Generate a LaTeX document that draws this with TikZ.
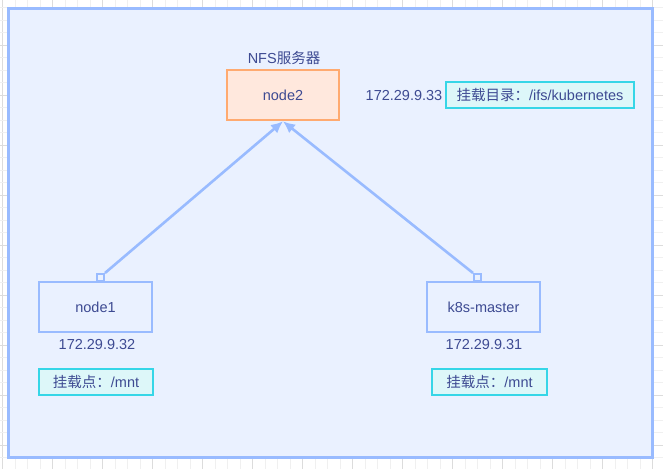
\documentclass[tikz,border=0pt]{standalone}
\usepackage{fontspec}
\setmainfont{Liberation Sans}
\newfontfamily\cjk{Noto Sans CJK SC}
\usetikzlibrary{arrows.meta}
\definecolor{gridminor}{HTML}{F0F0F0}
\definecolor{gridmajor}{HTML}{DCDCDC}
\definecolor{panelfill}{HTML}{EAF1FF}
\definecolor{panelline}{HTML}{99BBFF}
\definecolor{orline}{HTML}{FFAA70}
\definecolor{orfill}{HTML}{FFE8DD}
\definecolor{cyline}{HTML}{36D6E7}
\definecolor{cyfill}{HTML}{DDF7F9}
\definecolor{txt}{HTML}{3D4A92}
\tikzset{
  x=1pt, y=-1pt,
  every node/.style={font=\fontsize{14.5}{16}\selectfont, text=txt, inner sep=0pt},
  hostbox/.style={draw=panelline, fill=panelfill, line width=2.6pt, minimum width=113pt, minimum height=50pt},
  nfsbox/.style={draw=orline, fill=orfill, line width=2.6pt, minimum width=112pt, minimum height=50pt},
  mountbox/.style={draw=cyline, fill=cyfill, line width=2.6pt, minimum height=26pt},
  anchorsq/.style={draw=panelline, fill=panelfill, line width=2pt, minimum width=7pt, minimum height=7pt},
  link/.style={draw=panelline, line width=2.6pt, -{Latex[length=12pt,width=11pt]}},
}
\begin{document}
\begin{tikzpicture}
\useasboundingbox (0,0) rectangle (663,469);
% background grid
\foreach \k in {0,...,53} {
  \pgfmathsetmacro{\gx}{2.7+12.5*\k}
  \pgfmathtruncatemacro{\mj}{mod(\k,4)==0}
  \ifnum\mj=1 \draw[gridmajor, line width=1pt] (\gx,0) -- (\gx,469);
  \else \draw[gridminor, line width=1pt] (\gx,0) -- (\gx,469); \fi
}
\foreach \k in {1,...,38} {
  \pgfmathsetmacro{\gy}{-5+12.5*\k}
  \pgfmathtruncatemacro{\mj}{mod(\k,4)==0}
  \ifnum\mj=1 \draw[gridmajor, line width=1pt] (0,\gy) -- (663,\gy);
  \else \draw[gridminor, line width=1pt] (0,\gy) -- (663,\gy); \fi
}
% panel
\draw[draw=panelline, fill=panelfill, line width=3pt] (8,8) rectangle (652,457);

% NFS server
\node[nfsbox] (node2) at (283,95) {node2};
\node (nfslbl) at (284,58) {NFS{\cjk 服务器}};
\node (ip33) at (404,96) {172.29.9.33};
\node[mountbox, minimum width=188pt] (mnt33) at (540,95) {{\cjk 挂载目录：}/ifs/kubernetes};

% node1
\node[hostbox] (node1) at (95.5,307) {node1};
\node (ip32) at (97,345) {172.29.9.32};
\node[mountbox, minimum width=114pt] (mnt32) at (96,382) {{\cjk 挂载点：}/mnt};

% k8s-master
\node[hostbox] (master) at (483.5,307) {k8s-master};
\node (ip31) at (484,345) {172.29.9.31};
\node[mountbox, minimum width=115pt] (mnt31) at (489.5,382) {{\cjk 挂载点：}/mnt};

% connectors
\node[anchorsq] (sq1) at (100.5,277.5) {};
\node[anchorsq] (sq2) at (477.5,277.5) {};
\draw[link] (sq1.north east) -- (node2.south);
\draw[link] (sq2.north west) -- (node2.south);
\end{tikzpicture}
\end{document}
